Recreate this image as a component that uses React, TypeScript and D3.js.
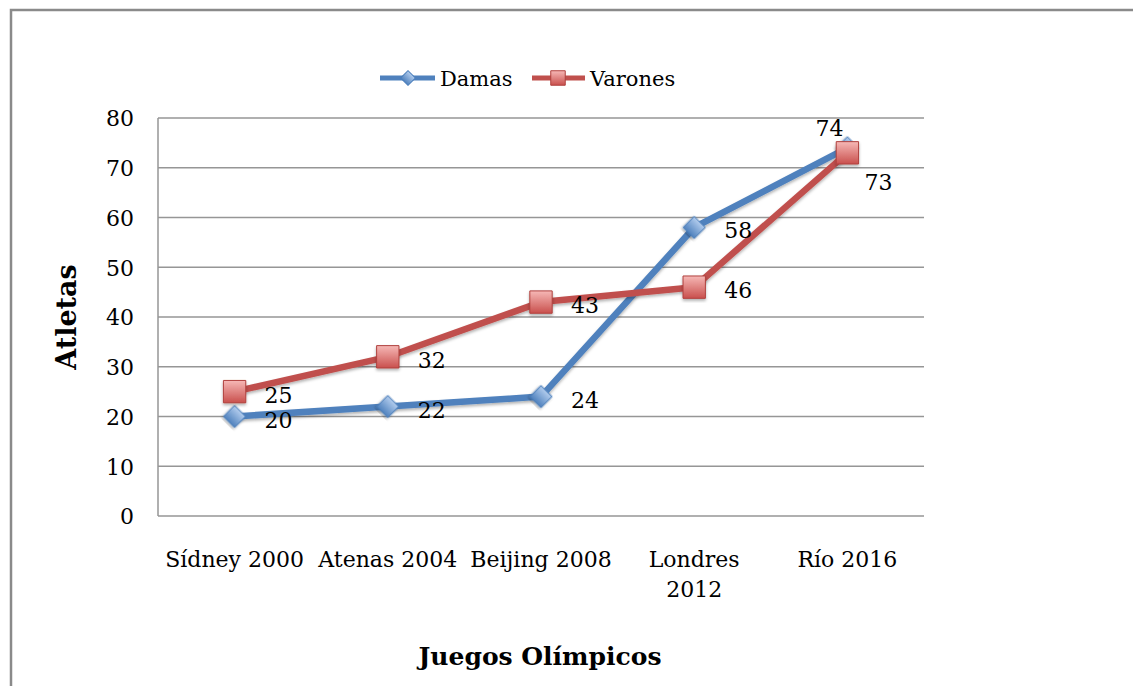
import React from "react";
import { scaleBand, scaleLinear, line, symbol, symbolSquare, range } from "d3";

// Datos
const categories = ["Sídney 2000", "Atenas 2004", "Beijing 2008", "Londres 2012", "Río 2016"];
const tickLabels = [["Sídney 2000"], ["Atenas 2004"], ["Beijing 2008"], ["Londres", "2012"], ["Río 2016"]];
const damas = [20, 22, 24, 58, 74];
const varones = [25, 32, 43, 46, 73];
const damasLabelPos = ["right", "right", "right", "right", "above-left"];
const varonesLabelPos = ["right", "right", "right", "right", "below-right"];
const yTicks = range(0, 81, 10);

const FONT = "'DejaVu Serif', serif";

const App: React.FC = () => {
  const width = 1133;
  const height = 686;
  const plot = { left: 158, right: 924, top: 118, bottom: 516 };

  const x = scaleBand<string>().domain(categories).range([plot.left, plot.right]).padding(0);
  const y = scaleLinear().domain([0, 80]).range([plot.bottom, plot.top]);
  const cx = (c: string) => (x(c) ?? 0) + x.bandwidth() / 2;

  const lineGen = line<number>()
    .x((_, i) => cx(categories[i]))
    .y((d) => y(d));

  const diamond = symbol().type(symbolSquare).size(245)() ?? "";
  const square = symbol().type(symbolSquare).size(500)() ?? "";
  const diamondSmall = symbol().type(symbolSquare).size(110)() ?? "";
  const squareSmall = symbol().type(symbolSquare).size(210)() ?? "";

  // desplazamiento de etiquetas segun posicion
  const labelOffset = (pos: string): [number, number] => {
    if (pos === "above-left") return [-32, -12];
    if (pos === "below-right") return [17, 37];
    return [30, 11];
  };

  const series = [
    { name: "Damas", values: damas, pos: damasLabelPos, color: "#4F81BD", marker: diamond, rot: 45, grad: "gradBlue", stroke: "#4A7EBB" },
    { name: "Varones", values: varones, pos: varonesLabelPos, color: "#C0504D", marker: square, rot: 0, grad: "gradRed", stroke: "#B0403D" },
  ];

  return (
    <svg
      width={width}
      height={height}
      style={{ position: "absolute", left: 0, top: 0, background: "#fff" }}
      fontFamily={FONT}
    >
      <defs>
        <linearGradient id="gradBlue" x1="0" y1="0" x2="0" y2="1">
          <stop offset="0%" stopColor="#B3CDEE" />
          <stop offset="100%" stopColor="#4F81BD" />
        </linearGradient>
        <linearGradient id="gradRed" x1="0" y1="0" x2="0" y2="1">
          <stop offset="0%" stopColor="#F6B8B6" />
          <stop offset="100%" stopColor="#C9504D" />
        </linearGradient>
        <filter id="shadow" x="-20%" y="-20%" width="140%" height="140%">
          <feDropShadow dx="0" dy="2" stdDeviation="1.5" floodColor="#000" floodOpacity="0.3" />
        </filter>
      </defs>

      {/* Marco exterior */}
      <rect x={11} y={10} width={1200} height={700} fill="#fff" stroke="#8a8a8a" strokeWidth={2.5} />

      {/* Lineas de cuadricula */}
      {yTicks.map((t) => (
        <line key={t} x1={plot.left} x2={plot.right} y1={y(t)} y2={y(t)} stroke="#969696" strokeWidth={1.5} />
      ))}
      <line x1={plot.left} x2={plot.left} y1={plot.top} y2={plot.bottom} stroke="#969696" strokeWidth={1.5} />

      {/* Etiquetas eje Y */}
      {yTicks.map((t) => (
        <text key={t} x={134} y={y(t)} dy="0.38em" textAnchor="end" fontSize={22} fill="#000">
          {t}
        </text>
      ))}

      {/* Etiquetas eje X */}
      {categories.map((c, i) => (
        <text key={c} x={cx(c)} y={567} textAnchor="middle" fontSize={22} fill="#000">
          {tickLabels[i].map((l, j) => (
            <tspan key={j} x={cx(c)} dy={j === 0 ? 0 : 30}>
              {l}
            </tspan>
          ))}
        </text>
      ))}

      {/* Titulos de ejes */}
      <text
        transform={`translate(67, ${(plot.top + plot.bottom) / 2}) rotate(-90)`}
        textAnchor="middle"
        dy="0.35em"
        fontSize={27}
        fontWeight="bold"
      >
        Atletas
      </text>
      <text x={540} y={665} textAnchor="middle" fontSize={25} fontWeight="bold">
        Juegos Olímpicos
      </text>

      {/* Series */}
      {series.map((s) => (
        <path
          key={s.name}
          d={lineGen(s.values) ?? ""}
          fill="none"
          stroke={s.color}
          strokeWidth={6.5}
          strokeLinejoin="round"
          filter="url(#shadow)"
        />
      ))}
      {series.map((s) => (
        <g key={s.name + "-m"}>
          {s.values.map((v, i) => (
            <path
              key={i}
              d={s.marker}
              transform={`translate(${cx(categories[i])}, ${y(v)}) rotate(${s.rot})`}
              fill={`url(#${s.grad})`}
              stroke={s.stroke}
              strokeWidth={1}
              filter="url(#shadow)"
            />
          ))}
          {s.values.map((v, i) => {
            const [dx, dy] = labelOffset(s.pos[i]);
            return (
              <text key={"l" + i} x={cx(categories[i]) + dx} y={y(v) + dy} fontSize={22} fill="#000">
                {v}
              </text>
            );
          })}
        </g>
      ))}

      {/* Leyenda */}
      <g>
        <line x1={380} x2={435} y1={78} y2={78} stroke="#4F81BD" strokeWidth={5} />
        <path d={diamondSmall} transform="translate(408, 78) rotate(45)" fill="url(#gradBlue)" stroke="#4A7EBB" />
        <text x={440} y={78} dy="0.36em" fontSize={21}>
          Damas
        </text>
        <line x1={532} x2={585} y1={78} y2={78} stroke="#C0504D" strokeWidth={5} />
        <path d={squareSmall} transform="translate(558, 78)" fill="url(#gradRed)" stroke="#B0403D" />
        <text x={590} y={78} dy="0.36em" fontSize={21}>
          Varones
        </text>
      </g>
    </svg>
  );
};

export default App;
